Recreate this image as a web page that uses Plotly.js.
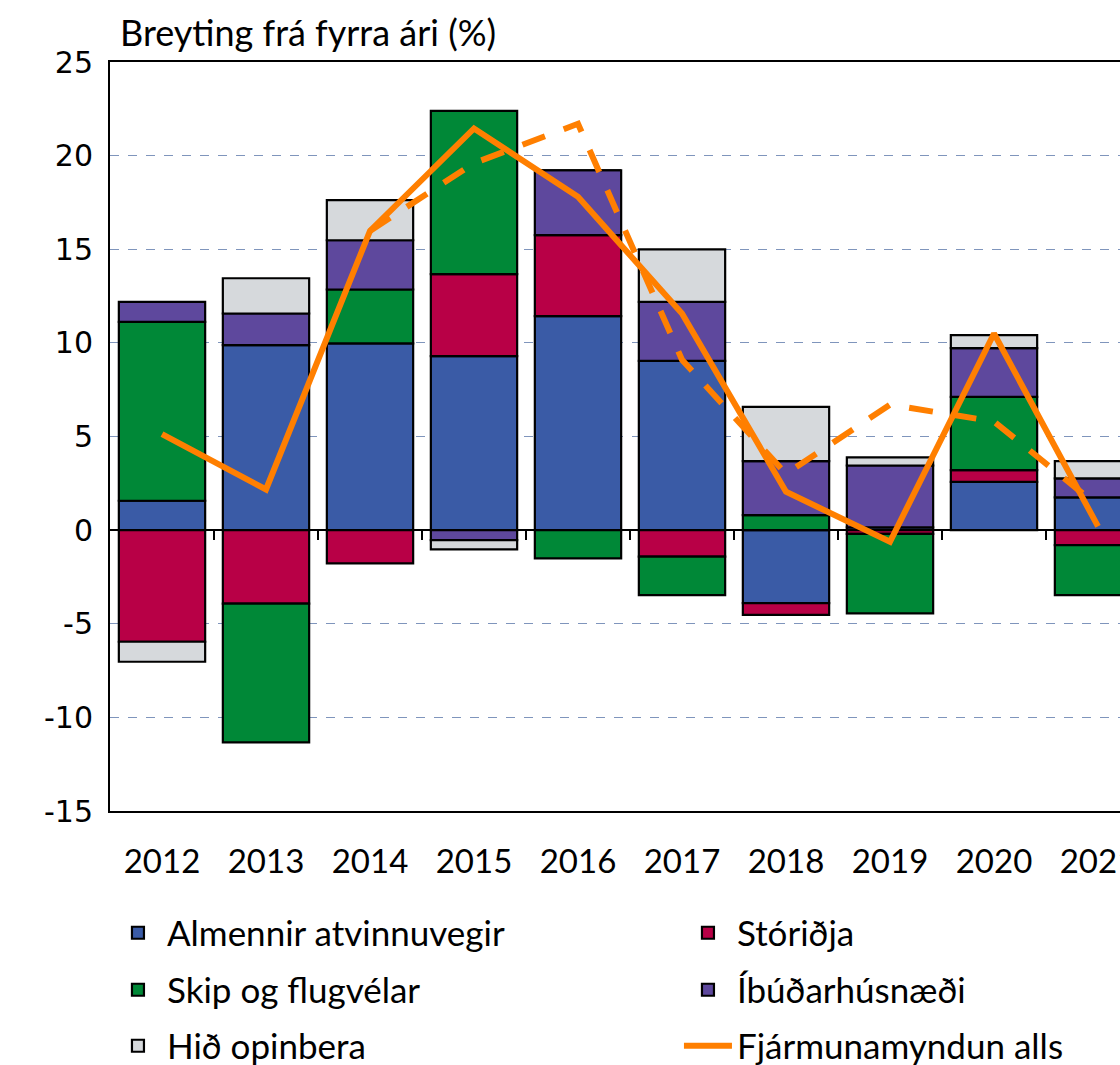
<!DOCTYPE html>
<html>
<head>
<meta charset="utf-8">
<script src="https://cdn.plot.ly/plotly-3.0.1.min.js"></script>
<style>
html,body{margin:0;padding:0;background:#fff;overflow:hidden;width:1120px;height:1065px;}
#chart{width:1190px;height:1065px;}
</style>
</head>
<body>
<div id="chart"></div>
<script>
const years = ['2012','2013','2014','2015','2016','2017','2018','2019','2020','2021'];
const almennir = [1.57, 9.88, 9.97, 9.29, 11.43, 9.04, -3.90, 0.15, 2.58, 1.75];
const storidja = [-5.96, -3.92, -1.78, 4.38, 4.32, -1.42, -0.63, -0.20, 0.62, -0.80];
const skip = [9.55, -7.42, 2.88, 8.72, -1.51, -2.05, 0.80, -4.25, 3.92, -2.67];
const ibudar = [1.07, 1.69, 2.63, -0.53, 3.47, 3.15, 2.88, 3.30, 2.60, 1.01];
const opinbera = [-1.07, 1.88, 2.14, -0.50, 0, 2.80, 2.90, 0.43, 0.69, 0.92];
const alls = [5.13, 2.17, 15.98, 21.45, 17.80, 11.57, 2.05, -0.62, 10.50, 0.20];
const allsDashed = [null, null, 15.98, 19.6, 21.7, 9.1, 3.0, 6.7, 5.8, 1.3];
const yTickVals = [-15, -10, -5, 0, 5, 10, 15, 20, 25];
const yTickText = ['-15', '-10', '-5', '0', '5', '10', '15', '20', '25'];
const boundaries = [0.5, 1.5, 2.5, 3.5, 4.5, 5.5, 6.5, 7.5, 8.5];
const yearIndex = years.map((_, i) => i);

const FONT = 'Lato, "Open Sans", sans-serif';
const YFONT = '"DejaVu Sans", Verdana, sans-serif';
const orange = '#FF7F00';

function bar(name, y, color, legend) {
  return {type:'bar', name:name, x:years, y:y, legend:legend,
    marker:{color:color, line:{color:'#000', width:2.2}}, hoverinfo:'y'};
}

const data = [
  bar('Almennir atvinnuvegir', almennir, '#3A5BA6', 'legend'),
  bar('Stóriðja', storidja, '#B80046', 'legend'),
  bar('Skip og flugvélar', skip, '#008837', 'legend2'),
  bar('Íbúðarhúsnæði', ibudar, '#5E489D', 'legend2'),
  bar('Hið opinbera', opinbera, '#D6D9DC', 'legend3'),
  {type:'scatter', mode:'lines', name:'Fjármunamyndun alls', x:years, y:alls,
    legend:'legend3', line:{color:orange, width:6}},
  {type:'scatter', mode:'lines', name:'Fjármunamyndun alls (spá)', x:yearIndex, y:allsDashed,
    xaxis:'x2', showlegend:false, connectgaps:false, line:{color:orange, width:6, dash:'24px,20px'}}
];

const legendBase = {orientation:'h', xanchor:'left', yanchor:'middle', x:-0.001,
  font:{family:FONT, size:35, color:'#000'}, entrywidth:507, entrywidthmode:'pixels',
  bgcolor:'rgba(0,0,0,0)', traceorder:'normal', itemwidth:48};

const layout = {
  width:1190, height:1065,
  margin:{l:110, r:40, t:62, b:254, autoexpand:false},
  paper_bgcolor:'#fff', plot_bgcolor:'#fff',
  barmode:'relative', bargap:0.17,
  font:{family:FONT, color:'#000', size:33},
  title:{text:'Breyting frá fyrra ári (%)', x:120/1190, xref:'container', xanchor:'left',
    y:1-33/1065, yref:'container', yanchor:'middle', font:{family:FONT, size:36, color:'#000'}},
  xaxis:{type:'category', range:[-0.5, 9.5], showline:true, linecolor:'#000', linewidth:2, mirror:true,
    ticks:'', showgrid:false, zeroline:false, ticklabelstandoff:20,
    tickfont:{family:FONT, size:33, color:'#000'}},
  xaxis2:{overlaying:'x', anchor:'free', position:0.375, range:[-0.5, 9.5],
    tickvals:boundaries, ticks:'outside', ticklen:9, tickwidth:2, tickcolor:'#000',
    showticklabels:false, showgrid:false, zeroline:false, showline:false, layer:'below traces'},
  yaxis:{range:[-15, 25], tickvals:yTickVals, ticktext:yTickText, showline:true, linecolor:'#000',
    linewidth:2, mirror:true, ticks:'', showgrid:true, gridcolor:'#7F95BC', griddash:'dash',
    gridwidth:1, zeroline:true, zerolinecolor:'#000', zerolinewidth:2, ticklabelstandoff:9,
    tickfont:{family:YFONT, size:30, color:'#000'}},
  legend:Object.assign({}, legendBase, {y:-(933-811)/749}),
  legend2:Object.assign({}, legendBase, {y:-(990-811)/749}),
  legend3:Object.assign({}, legendBase, {y:-(1046-811)/749}),
  showlegend:true
};

Plotly.newPlot('chart', data, layout, {displayModeBar:false, staticPlot:true});
</script>
</body>
</html>
